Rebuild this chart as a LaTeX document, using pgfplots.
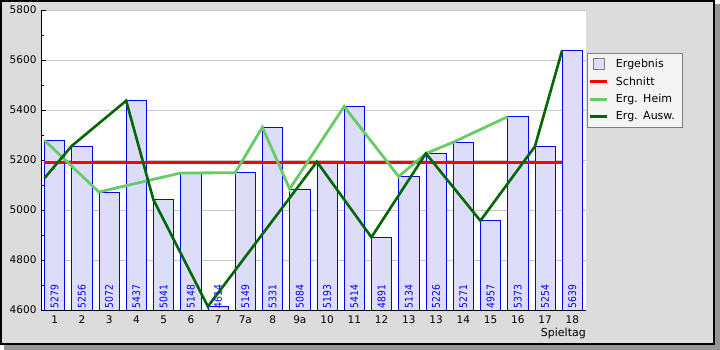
\documentclass[border=0pt]{standalone}
\usepackage{fontspec}
\setmainfont{DejaVu Sans}
\newfontfamily\barfamily[FakeStretch=0.88]{DejaVu Sans}
\usepackage{pgfplots}
\pgfplotsset{compat=1.18}
\usetikzlibrary{backgrounds}
\definecolor{barfill}{RGB}{221,221,250}
\definecolor{bgray}{RGB}{220,220,220}
\definecolor{shadow}{RGB}{150,150,150}
\definecolor{lgreen}{RGB}{102,204,102}
\definecolor{dgreen}{RGB}{0,102,0}
\definecolor{gridc}{RGB}{200,200,200}
\definecolor{legfill}{RGB}{244,244,244}
\newcommand\tfont{\fontsize{10.5}{12}\selectfont}
\newcommand\lfont{\fontsize{11}{12}\selectfont}
\newcommand\bfont{\barfamily\fontsize{10.5}{11}\selectfont}
\begin{document}
\begin{tikzpicture}
\begin{axis}[
  name=ax,
  scale only axis, width=545pt, height=300pt,
  xmin=-0.5, xmax=19.5, ymin=4600, ymax=5800,
  axis background/.style={fill=white},
  axis x line*=bottom, axis y line*=left,
  axis line style={-, black, line width=0.8pt},
  xtick={0,...,19},
  xticklabels={1,2,3,4,5,6,7,7a,8,9a,10,11,12,13,13,14,15,16,17,18},
  major x tick style={draw=none},
  extra x ticks={0.5,1.5,...,18.5},
  extra x tick labels={},
  extra x tick style={major x tick style={black, line width=0.8pt}, grid=none},
  ytick={4600,4800,...,5800},
  minor ytick={4700,4900,...,5700},
  major tick length=5pt,
  minor tick length=3pt,
  tick align=inside,
  tick style={black, line width=0.8pt},
  ymajorgrids, grid style={gridc, line width=0.8pt},
  /pgf/number format/assume math mode=true,
  /pgf/number format/1000 sep={},
  tick label style={font=\tfont},
  xticklabel style={yshift=-2.5pt},
  yticklabel style={xshift=-1pt},
  xlabel={Spieltag},
  xlabel style={font=\lfont, at={(axis description cs:1,0)}, anchor=east, yshift=-23pt, inner sep=0pt},
  legend style={at={(1,0.856)}, anchor=north west, xshift=0.7pt,
    fill=legfill, draw=gray, font=\lfont, row sep=3.6pt, inner xsep=2pt, inner ysep=4pt,
    cells={anchor=west},
    /tikz/every odd column/.append style={column sep=5pt},
    /tikz/every even column/.append style={text width=62pt}},
  legend cell align=left,
]
\addplot[ybar, bar width=20.3pt, bar shift=0pt, fill=barfill, draw=blue, line width=0.8pt,
  legend image code/.code={\draw[fill=barfill, draw=gray, line width=0.8pt] (0.1cm,-5.5pt) rectangle (0.5cm,5.5pt);}]
coordinates {(0,5279) (1,5256) (2,5072) (3,5437) (4,5041) (5,5148) (6,4614) (7,5149) (8,5331) (9,5084)
 (10,5193) (11,5414) (12,4891) (13,5134) (14,5226) (15,5271) (16,4957) (17,5373) (18,5254) (19,5639)};
\addlegendentry{Ergebnis}
\addplot[draw=none, forget plot, nodes near coords, point meta=explicit symbolic,
  every node near coord/.style={rotate=90, anchor=west, font=\bfont, text=blue, inner sep=1.2pt}]
coordinates {(0,4600) [5279] (1,4600) [5256] (2,4600) [5072] (3,4600) [5437] (4,4600) [5041]
 (5,4600) [5148] (6,4600) [4614] (7,4600) [5149] (8,4600) [5331] (9,4600) [5084]
 (10,4600) [5193] (11,4600) [5414] (12,4600) [4891] (13,4600) [5134] (14,4600) [5226]
 (15,4600) [5271] (16,4600) [4957] (17,4600) [5373] (18,4600) [5254] (19,4600) [5639]};
\addplot[red, line width=3pt] coordinates {(-0.375,5188) (18.625,5188)};
\addlegendentry{Schnitt}
\addplot[lgreen, line width=2.8pt] coordinates {(-0.375,5279) (1.625,5072) (4.625,5148) (6.625,5149)
 (7.625,5331) (8.625,5084) (10.625,5414) (12.625,5134) (13.625,5226) (14.625,5271) (16.625,5373)};
\addlegendentry{Erg. Heim}
\addplot[dgreen, line width=2.6pt] coordinates {(-0.375,5127) (0.625,5256) (2.625,5437) (3.625,5041)
 (5.625,4614) (9.625,5193) (11.625,4891) (13.625,5226) (15.625,4957) (17.625,5254) (18.625,5639)};
\addlegendentry{Erg. Ausw.}
\end{axis}
\begin{scope}[on background layer, shift={(ax.south west)}, x=1pt, y=1pt]
\fill[shadow] (-37,-40) rectangle (679,306);
\fill[bgray] (-41,-35) rectangle (674,310);
\draw[line width=2pt] (-40,-34) rectangle (673,309);
\end{scope}
\pgfresetboundingbox
\path[use as bounding box, shift={(ax.south west)}, x=1pt, y=1pt] (-41,-40) rectangle (679,310);
\end{tikzpicture}
\end{document}
